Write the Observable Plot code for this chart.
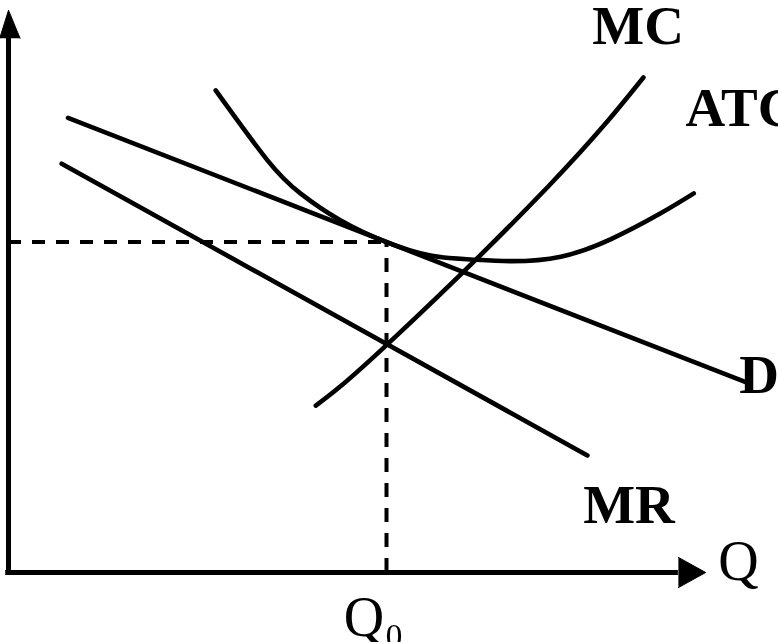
<!DOCTYPE html>
<html><head><meta charset="utf-8">
<script src="https://cdn.jsdelivr.net/npm/d3@7"></script>
<script src="https://cdn.jsdelivr.net/npm/@observablehq/plot@0.6"></script>
<style>body{margin:0;background:#fff;} svg{display:block}</style>
</head><body><div id="chart"></div>
<script>
// Demand curve D (quantity, price)
const demandQ = [8.5, 105.5];
const demandP = [81.2, 33.9];
// Marginal revenue MR
const mrQ = [7.6, 82.7];
const mrP = [73.0, 20.9];
// Marginal cost MC
const mcQ = [43.9, 54, 77, 90.7];
const mcP = [29.8, 40.6, 68.8, 88.4];
// Average total cost ATC
const atcQ = [29.6, 37.0, 41.7, 47.4, 54, 60.3, 66.0, 71.9, 78.9, 86.0, 93.1, 97.9];
const atcP = [86.1, 73.6, 67.7, 62.9, 59, 56.6, 55.9, 55.6, 56.4, 59.5, 64.1, 67.7];
// Equilibrium
const Q0 = 54, P0 = 59;
// Axis extents (tips of arrows)
const axisMaxQ = 99.6, axisMaxP = 100.4;
// Labels
const boldLabels = ["MC", "ATC", "D", "MR"];
const boldLabelQ = [83.4, 96.7, 104.4, 82.1];
const boldLabelP = [94.4, 79.8, 32.1, 8.9];
const plainLabels = ["Q", "Q₀"];
const plainLabelQ = [101.4, 47.9];
const plainLabelP = [-1.4, -11.4];

const pts = (qs, ps) => qs.map((q, i) => ({q, p: ps[i]}));
const lbl = (ts, qs, ps) => ts.map((t, i) => ({t, q: qs[i], p: ps[i]}));

const headLenP = 5, headHalfQ = 1.25, headLenQ = 3.9, headHalfP = 2.7;
const yHead = [{q: -headHalfQ, p: axisMaxP - headLenP}, {q: 0, p: axisMaxP}, {q: headHalfQ + 0.4, p: axisMaxP - headLenP}];
const xHead = [{q: axisMaxQ - headLenQ, p: headHalfP}, {q: axisMaxQ, p: 0}, {q: axisMaxQ - headLenQ, p: -headHalfP}];

const font = "'Liberation Serif', 'Times New Roman', serif";
const lw = 4.6;

const chart = Plot.plot({
  width: 778,
  height: 642,
  marginLeft: 8,
  marginRight: 70,
  marginTop: 12,
  marginBottom: 70,
  x: {domain: [0, 100], axis: null},
  y: {domain: [0, 100], axis: null},
  style: {background: "#fff", color: "#000"},
  marks: [
    Plot.ruleY([P0], {x1: 0, x2: Q0, stroke: "#000", strokeWidth: 4, strokeDasharray: "13,11"}),
    Plot.ruleX([Q0], {y1: 0, y2: P0, stroke: "#000", strokeWidth: 4, strokeDasharray: "14,11"}),
    Plot.line(pts(demandQ, demandP), {x: "q", y: "p", stroke: "#000", strokeWidth: lw, strokeLinecap: "round"}),
    Plot.line(pts(mrQ, mrP), {x: "q", y: "p", stroke: "#000", strokeWidth: lw, strokeLinecap: "round"}),
    Plot.line(pts(mcQ, mcP), {x: "q", y: "p", curve: "natural", stroke: "#000", strokeWidth: lw, strokeLinecap: "round"}),
    Plot.line(pts(atcQ, atcP), {x: "q", y: "p", curve: "natural", stroke: "#000", strokeWidth: lw, strokeLinecap: "round"}),
    Plot.ruleX([0], {y1: -0.4, y2: axisMaxP - headLenP, stroke: "#000", strokeWidth: 5}),
    Plot.ruleY([0], {x1: -0.4, x2: axisMaxQ - headLenQ, stroke: "#000", strokeWidth: 5}),
    Plot.line(yHead, {x: "q", y: "p", fill: "#000", stroke: "#000", strokeWidth: 1}),
    Plot.line(xHead, {x: "q", y: "p", fill: "#000", stroke: "#000", strokeWidth: 1}),
    Plot.text(lbl(boldLabels, boldLabelQ, boldLabelP), {x: "q", y: "p", text: "t", textAnchor: "start", lineAnchor: "bottom", fontSize: 55, fontWeight: "bold", fontFamily: font, fill: "#000"}),
    Plot.text(lbl(plainLabels, plainLabelQ, plainLabelP), {x: "q", y: "p", text: "t", textAnchor: "start", lineAnchor: "bottom", fontSize: 56, fontFamily: font, fill: "#000"})
  ]
});
document.getElementById("chart").appendChild(chart);
</script>
</body></html>
